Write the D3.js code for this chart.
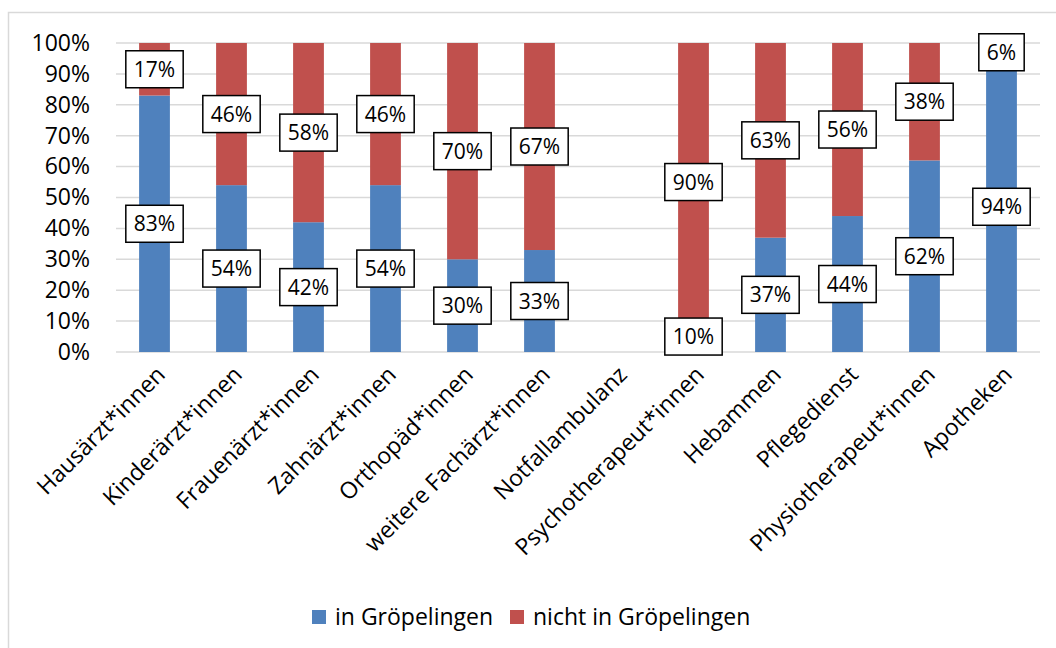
<!DOCTYPE html>
<html>
<head>
<meta charset="utf-8">
<script src="https://cdn.jsdelivr.net/npm/d3@7"></script>
<style>
  body { margin: 0; background: #fff; }
  text { font-family: "Open Sans", "Liberation Sans", sans-serif; fill: #000; }
</style>
</head>
<body>
<script>
const categories = ["Hausärzt*innen", "Kinderärzt*innen", "Frauenärzt*innen", "Zahnärzt*innen",
  "Orthopäd*innen", "weitere Fachärzt*innen", "Notfallambulanz", "Psychotherapeut*innen",
  "Hebammen", "Pflegedienst", "Physiotherapeut*innen", "Apotheken"];
const inValues  = [83, 54, 42, 54, 30, 33, 0, 10, 37, 44, 62, 94];
const outValues = [17, 46, 58, 46, 70, 67, 0, 90, 63, 56, 38, 6];
const seriesNames = ["in Gröpelingen", "nicht in Gröpelingen"];
const yTicks = [0, 10, 20, 30, 40, 50, 60, 70, 80, 90, 100];

const colors = ["#4f81bd", "#c0504d"];
const W = 1056, H = 648;
const plotL = 116, plotR = 1040, plotT = 43, plotB = 352;

const svg = d3.select("body").append("svg")
  .attr("width", W).attr("height", H);

// chart frame (only top and left edges are visible)
svg.append("rect")
  .attr("x", 8.5).attr("y", 12.5)
  .attr("width", W + 10).attr("height", H + 10)
  .attr("fill", "#fff").attr("stroke", "#d9d9d9").attr("stroke-width", 1.5);

const x = d3.scaleBand().domain(categories).range([plotL, plotR]).paddingInner(0.6).paddingOuter(0.3);
const y = d3.scaleLinear().domain([0, 100]).range([plotB, plotT]);

// gridlines
svg.append("g").selectAll("line")
  .data(yTicks).enter().append("line")
  .attr("x1", plotL).attr("x2", plotR)
  .attr("y1", d => y(d)).attr("y2", d => y(d))
  .attr("stroke", "#d9d9d9").attr("stroke-width", 1.5);

const yAxis = d3.axisLeft(y).tickValues(yTicks).tickSize(0).tickPadding(0).tickFormat(d => d + "%");
svg.append("g")
  .attr("transform", "translate(90,0)")
  .call(yAxis)
  .call(g => g.select(".domain").remove())
  .selectAll("text")
  .style("font-size", "23px")
  .attr("font-family", null);

const stackData = categories.map((c, i) => ({ cat: c, a: inValues[i], b: outValues[i] }));
const stacked = d3.stack().keys(["a", "b"])(stackData);

const layers = svg.append("g").selectAll("g")
  .data(stacked).enter().append("g")
  .attr("fill", (d, i) => colors[i]);

layers.selectAll("rect")
  .data(d => d).enter().append("rect")
  .attr("x", d => x(d.data.cat))
  .attr("width", x.bandwidth())
  .attr("y", d => y(d[1]))
  .attr("height", d => y(d[0]) - y(d[1]));

// data labels
const labelG = svg.append("g");
stacked.forEach(layer => {
  layer.forEach(d => {
    const v = d[1] - d[0];
    if (!v) return;
    const cx = x(d.data.cat) + x.bandwidth() / 2;
    const cy = (y(d[0]) + y(d[1])) / 2;
    const g = labelG.append("g").attr("transform", `translate(${cx},${cy})`);
    const box = g.append("rect");
    const t = g.append("text")
      .attr("text-anchor", "middle").attr("dy", "0.36em")
      .style("font-size", "21px")
      .text(v + "%");
    const tw = t.node().getComputedTextLength() + 16;
    box.attr("x", -tw / 2).attr("y", -18.5).attr("width", tw).attr("height", 37)
      .attr("fill", "#fff").attr("stroke", "#000").attr("stroke-width", 1.5);
  });
});

// x axis labels
const xAxis = d3.axisBottom(x).tickSize(0).tickPadding(0);
svg.append("g")
  .attr("transform", `translate(0,${plotB})`)
  .call(xAxis)
  .call(g => g.select(".domain").remove())
  .selectAll("text")
  .attr("font-family", null)
  .style("font-size", "23px")
  .attr("text-anchor", "end")
  .attr("y", 0).attr("dy", 0)
  .attr("transform", "translate(12,24) rotate(-45)");

// legend
const legendX = [312, 510];
const legend = svg.append("g").selectAll("g")
  .data(seriesNames).enter().append("g")
  .attr("transform", (d, i) => `translate(${legendX[i]},610)`);
legend.append("rect").attr("width", 14).attr("height", 14)
  .attr("fill", (d, i) => colors[i]);
legend.append("text").attr("x", 23).attr("y", 7).attr("dy", "0.36em")
  .style("font-size", "23px").text(d => d);
</script>
</body>
</html>
